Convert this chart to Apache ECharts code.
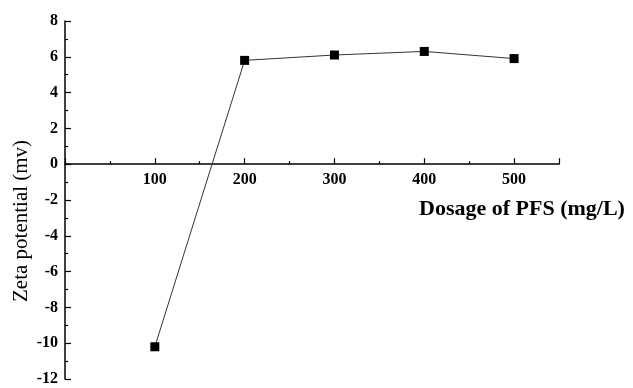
<!DOCTYPE html>
<html><head><meta charset="utf-8">
<script src="https://cdn.jsdelivr.net/npm/echarts@6/dist/echarts.min.js"></script>
<style>html,body{margin:0;padding:0;background:#fff}#c{width:633px;height:388px}</style>
</head><body><div id="c"></div>
<script>
const dosage = [100, 200, 300, 400, 500];
const zeta = [-10.2, 5.8, 6.1, 6.3, 5.9];
const xName = 'Dosage of PFS (mg/L)';
const yName = 'Zeta potential (mv)';
const font = '"Liberation Serif", "Times New Roman", serif';
const gridTop = 21, gridH = 358, yMin = -12, yMax = 8;
const chart = echarts.init(document.getElementById('c'));
chart.setOption({
  animation: false,
  backgroundColor: '#fff',
  grid: {left: 65, top: gridTop, right: 74, height: gridH, containLabel: false},
  xAxis: {
    type: 'value', min: 0, max: 550, interval: 100,
    position: 'bottom',
    offset: -gridH * (0 - yMin) / (yMax - yMin),
    axisLine: {onZero: false, lineStyle: {color: '#000', width: 1.5}},
    axisTick: {inside: true, length: 6, lineStyle: {color: '#000', width: 1.2}},
    minorTick: {show: true, splitNumber: 2, length: 3, lineStyle: {color: '#000', width: 1.2}},
    splitLine: {show: false},
    axisLabel: {color: '#000', fontFamily: font, fontWeight: 'bold', fontSize: 16, margin: 8,
      formatter: v => (v === 0 || v > 500 ? '' : v)}
  },
  yAxis: {
    type: 'value', min: yMin, max: yMax, interval: 2,
    axisLine: {onZero: false, lineStyle: {color: '#000', width: 1.5}},
    axisTick: {inside: true, length: 6, lineStyle: {color: '#000', width: 1.2}},
    minorTick: {show: true, splitNumber: 2, length: 3, lineStyle: {color: '#000', width: 1.2}},
    splitLine: {show: false},
    axisLabel: {color: '#000', fontFamily: font, fontWeight: 'bold', fontSize: 16, margin: 7}
  },
  graphic: [
    {type: 'text', left: 419, top: 198, style: {text: xName, fill: '#000', font: 'bold 22px ' + font}},
    {type: 'text', x: 11, y: 302, rotation: Math.PI / 2, style: {text: yName, fill: '#000', font: '21px ' + font}}
  ],
  series: [{
    type: 'line', data: dosage.map((d, i) => [d, zeta[i]]),
    symbol: 'rect', symbolSize: 9,
    itemStyle: {color: '#000'},
    lineStyle: {color: '#333', width: 1}
  }]
});
</script></body></html>
